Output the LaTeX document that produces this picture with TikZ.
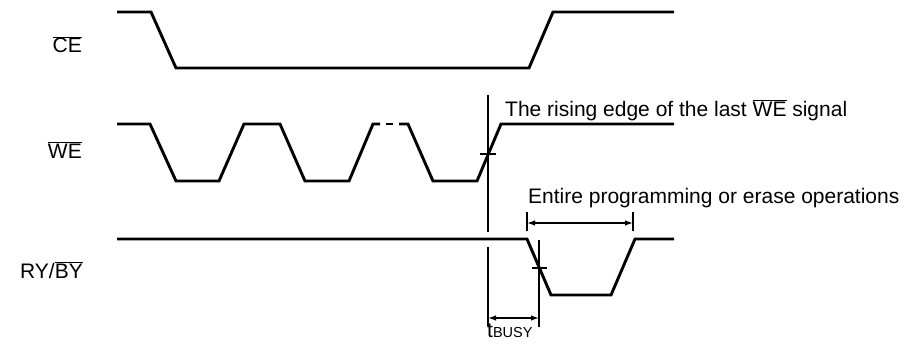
\documentclass[tikz,border=0pt]{standalone}
\usepackage{fontspec}
\setmainfont{Liberation Sans}
\usetikzlibrary{arrows.meta}
\newcommand{\ovl}[1]{$\overline{\hbox{#1}}$}
\begin{document}
\begin{tikzpicture}[x=1pt,y=-1pt,
  sig/.style={line width=2.9pt, line join=miter, line cap=butt},
  mark line/.style={line width=1.6pt},
  tickl/.style={line width=1.3pt},
  dimarrow/.style={line width=1.3pt, {Latex[length=8pt,width=5.5pt]}-{Latex[length=8pt,width=5.5pt]}},
  lbl/.style={font=\fontsize{21}{25}\selectfont, inner sep=0pt}]
\useasboundingbox (0,0) rectangle (908,345);
% CE
\draw[sig] (117,12) -- (151,12) -- (176,68) -- (529,68) -- (553,12) -- (674,12);
% WE
\draw[sig] (117,124) -- (150,124) -- (176,181) -- (219,181) -- (244,124) -- (280,124) -- (305,181) -- (349,181) -- (373,124) -- (380,124);
\draw[sig] (386,124) -- (393,124);
\draw[sig] (399,124) -- (408,124) -- (433,181) -- (477,181) -- (501,124) -- (674,124);
% RY/BY
\draw[sig] (117,239) -- (527,239) -- (551,295) -- (611,295) -- (635,239) -- (674,239);
% vertical marker line (last WE rising edge)
\coordinate (v1) at (488,95);
\coordinate (v2) at (488,232);
\coordinate (v3) at (488,247);
\coordinate (v4) at (488,326);
\draw[mark line] (v1) -- (v2);
\draw[mark line] (v3) -- (v4);
\draw[tickl] (480,154) -- (496,154);
% busy marker
\coordinate (b1) at (539,240);
\coordinate (b2) at (539,327);
\draw[mark line] (b1) -- (b2);
\draw[tickl] (532,268) -- (547,268);
% entire bars
\coordinate (e1) at (527,212);
\coordinate (e2) at (527,231);
\coordinate (e3) at (633,212);
\coordinate (e4) at (633,231);
\draw[mark line] (e1) -- (e2);
\draw[mark line] (e3) -- (e4);
\coordinate (ea) at (527,223);
\coordinate (eb) at (633,223);
\draw[dimarrow] (ea) -- (eb);
% tbusy arrow
\coordinate (ta) at (488,318);
\coordinate (tb) at (539,318);
\draw[dimarrow] (ta) -- (tb);
% labels
\node[lbl, anchor=base east] (ce) at (82,53) {\ovl{CE}};
\node[lbl, anchor=base east] (we) at (82,158) {\ovl{WE}};
\node[lbl, anchor=base east] (ry) at (83,278) {RY/\ovl{BY}};
\node[lbl, anchor=base west] (rise) at (505,116) {The rising edge of the last \ovl{WE} signal};
\node[lbl, anchor=base west] (entire) at (528,203) {Entire programming or erase operations};
\node[lbl, anchor=base west] (tbusy) at (487,337) {t{\fontsize{14.5}{15}\selectfont BUSY}};
\end{tikzpicture}
\end{document}
